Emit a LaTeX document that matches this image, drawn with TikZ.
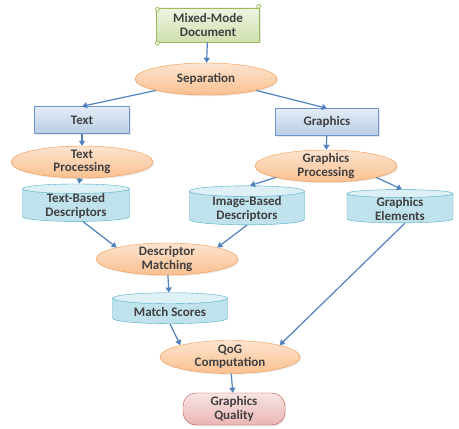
\documentclass[tikz,border=0pt]{standalone}
\usepackage{fontspec}
\setmainfont{Carlito}
\usetikzlibrary{arrows.meta, shapes.geometric, shadows}
\definecolor{arrowblue}{HTML}{4F81BD}
\definecolor{procline}{HTML}{F79646}
\definecolor{proctop}{HTML}{FDE4CF}
\definecolor{procbot}{HTML}{FAC090}
\definecolor{partline}{HTML}{6F95C8}
\definecolor{parttop}{HTML}{E3ECF6}
\definecolor{partbot}{HTML}{B9CDE5}
\definecolor{storeline}{HTML}{4BACC6}
\definecolor{storefill}{HTML}{BFE2EC}
\definecolor{storetop}{HTML}{DDF0F5}
\definecolor{docline}{HTML}{9BBB59}
\definecolor{doctop}{HTML}{EEF4E2}
\definecolor{docbot}{HTML}{CFE0AE}
\definecolor{resline}{HTML}{C0504D}
\definecolor{restop}{HTML}{F7E4E3}
\definecolor{resbot}{HTML}{E9B5B4}

\begin{document}
\begin{tikzpicture}[x=1pt, y=1pt,
  base/.style={font=\bfseries\fontsize{13}{13.5}\selectfont, text=black!75, align=center},
  shade/.style={drop shadow={opacity=0.18, shadow xshift=1.2pt, shadow yshift=-1.2pt}},
  proc/.style={base, shade, ellipse, draw=procline, top color=proctop, bottom color=procbot,
               inner xsep=2pt, inner ysep=-2pt, minimum width=142pt, minimum height=32pt},
  part/.style={base, shade, rectangle, draw=partline, top color=parttop, bottom color=partbot,
               minimum height=27pt},
  store/.style={base, cylinder, shape border rotate=90, aspect=0.14, draw=storeline,
                cylinder uses custom fill, cylinder body fill=storefill, cylinder end fill=storetop,
                inner ysep=0pt, minimum height=33pt},
  doc/.style={base, shade, rectangle, draw=docline, top color=doctop, bottom color=docbot,
              minimum width=103pt, minimum height=34pt},
  res/.style={base, shade, rectangle, rounded corners=13pt, draw=resline, top color=restop,
              bottom color=resbot, minimum width=102pt, minimum height=32pt, inner ysep=1pt},
  curl/.style={draw=docline, fill=doctop, line width=0.6pt},
  arr/.style={-{Triangle[length=5pt, width=6pt]}, line width=1.2pt, arrowblue}]
  \useasboundingbox (0,0) rectangle (459,429);

  \node[doc] (doc) at (208,404) {Mixed-Mode\\Document};
  \draw[curl] ([xshift=1pt, yshift=-1.5pt]doc.north west) circle (2pt);
  \draw[curl] ([xshift=-1pt, yshift=1.5pt]doc.north east) circle (2pt);
  \draw[curl] ([xshift=1pt, yshift=-1pt]doc.south west) circle (2pt);

  \node[proc] (sep) at (206,350) {Separation};
  \node[part, minimum width=95pt] (text) at (82,309) {Text};
  \node[part, minimum width=103pt] (gfx) at (327,307) {Graphics};
  \node[proc] (tproc) at (82,267) {Text\\Processing};
  \node[proc] (gproc) at (326,263) {Graphics\\Processing};
  \node[store, minimum width=107pt] (tdesc) at (76,223) {Text-Based\\Descriptors};
  \node[store, minimum width=115pt] (idesc) at (247,220) {Image-Based\\Descriptors};
  \node[store, minimum width=106pt] (gelem) at (400,220) {Graphics\\Elements};
  \node[proc] (match) at (167,170) {Descriptor\\Matching};
  \node[store, minimum width=115pt, minimum height=31pt] (score) at (170,117) {Match Scores};
  \node[proc, minimum width=140pt, minimum height=33pt] (qog) at (230,72) {QoG\\Computation};
  \node[res] (qual) at (234,20) {Graphics\\Quality};

  \draw[arr] (doc) -- (sep);
  \draw[arr] (sep.south west) -- (text.north);
  \draw[arr] (sep.south east) -- (gfx.north);
  \draw[arr] (text) -- (tproc);
  \draw[arr] (gfx) -- (gproc);
  \draw[arr] (tproc) -- (tdesc);
  \draw[arr] (gproc.south west) -- ([xshift=3pt]idesc.north);
  \draw[arr] (gproc.south east) -- ([xshift=2pt]gelem.north);
  \draw[arr] ([xshift=7pt]tdesc.south) -- (match.north west);
  \draw[arr] (idesc.south) -- (match.north east);
  \draw[arr] (match) -- (score);
  \draw[arr] (score.south) -- (qog.north west);
  \draw[arr] ([xshift=5pt]gelem.south) -- (qog.north east);
  \draw[arr] (qog) -- (qual);
\end{tikzpicture}
\end{document}
